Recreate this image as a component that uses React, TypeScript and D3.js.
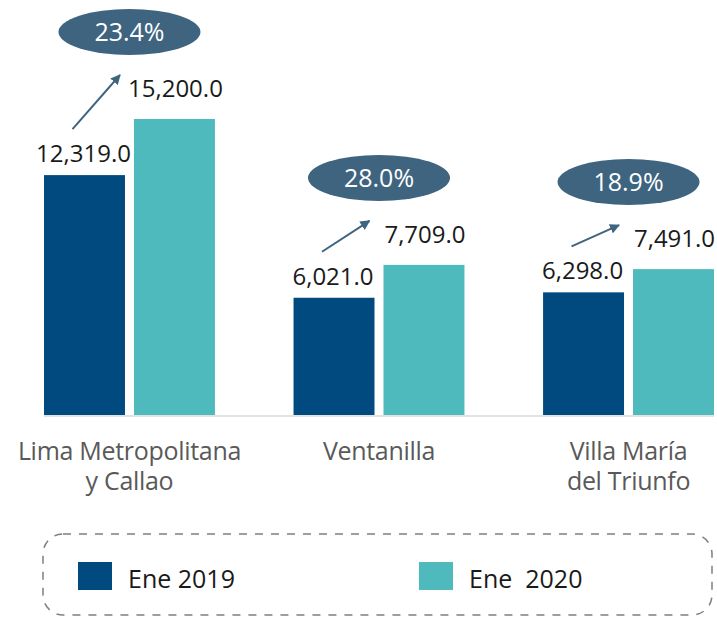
import React, { useEffect, useRef } from 'react'
import * as d3 from 'd3'

const categories = ['Lima Metropolitana y Callao', 'Ventanilla', 'Villa María del Triunfo']
const categoryLines = [['Lima Metropolitana', 'y Callao'], ['Ventanilla'], ['Villa María', 'del Triunfo']]
const seriesNames = ['Ene 2019', 'Ene  2020']
const values2019 = [12319.0, 6021.0, 6298.0]
const values2020 = [15200.0, 7709.0, 7491.0]
const growth = ['23.4%', '28.0%', '18.9%']

const WIDTH = 717
const HEIGHT = 617
const DARK = '#004a7f'
const TEAL = '#4fbabd'
const BADGE = '#3e6480'
const FONT = '"Open Sans", sans-serif'

const App = () => {
  const ref = useRef<SVGSVGElement>(null)

  useEffect(() => {
    const svg = d3.select(ref.current)
    svg.selectAll('*').remove()

    const rows = categories.map((c, i) => ({ cat: c, v: [values2019[i], values2020[i]] }))
    const color = d3.scaleOrdinal<string>().domain(seriesNames).range([DARK, TEAL])

    const x0 = d3.scaleBand().domain(categories).range([44, 714]).paddingInner(0.315).paddingOuter(0)
    const x1 = d3.scaleBand().domain(seriesNames).range([0, x0.bandwidth()]).paddingInner(0.1).paddingOuter(0)
    const y = d3.scaleLinear()
      .domain([0, d3.max(values2020) as number])
      .range([415, 119])

    // arrow marker
    svg.append('defs').append('marker')
      .attr('id', 'arr')
      .attr('viewBox', '0 0 10 10')
      .attr('refX', 9).attr('refY', 5)
      .attr('markerWidth', 5).attr('markerHeight', 5)
      .attr('orient', 'auto')
      .append('path')
      .attr('d', 'M0,0 L10,5 L0,10 z')
      .attr('fill', BADGE)

    // bars
    const groups = svg.append('g')
      .selectAll('g')
      .data(rows)
      .join('g')
      .attr('transform', d => `translate(${x0(d.cat)},0)`)

    groups.selectAll('rect')
      .data(d => seriesNames.map((s, j) => ({ key: s, value: d.v[j] })))
      .join('rect')
      .attr('x', d => x1(d.key) as number)
      .attr('y', d => y(d.value))
      .attr('width', x1.bandwidth())
      .attr('height', d => y(0) - y(d.value))
      .attr('fill', d => color(d.key))

    // axis baseline
    svg.append('line')
      .attr('x1', 44).attr('x2', 714)
      .attr('y1', 416).attr('y2', 416)
      .attr('stroke', '#d9d9d9').attr('stroke-width', 1.5)

    const fmt = d3.format(',.1f')

    // value labels
    groups.selectAll('text.val')
      .data(d => seriesNames.map((s, j) => ({ key: s, value: d.v[j], j })))
      .join('text')
      .attr('class', 'val')
      .attr('x', d => (x1(d.key) as number) + x1.bandwidth() / 2 + (d.j === 1 ? 1 : -1))
      .attr('y', d => y(d.value) - (d.j === 1 ? 22 : 13))
      .attr('text-anchor', 'middle')
      .attr('font-family', FONT)
      .attr('font-size', 24)
      .attr('fill', '#1a1a1a')
      .text(d => fmt(d.value))

    // growth arrows
    groups.append('line')
      .attr('x1', () => (x1(seriesNames[0]) as number) + x1.bandwidth() / 2 - 12)
      .attr('y1', d => y(d.v[0]) - 46)
      .attr('x2', () => (x1(seriesNames[1]) as number) - 14)
      .attr('y2', d => y(d.v[1]) - 44)
      .attr('stroke', BADGE)
      .attr('stroke-width', 2)
      .attr('marker-end', 'url(#arr)')

    // growth badges
    groups.append('ellipse')
      .attr('cx', x0.bandwidth() / 2)
      .attr('cy', d => y(d.v[1]) - 87)
      .attr('rx', 71).attr('ry', 23)
      .attr('fill', BADGE)

    groups.append('text')
      .attr('x', x0.bandwidth() / 2)
      .attr('y', d => y(d.v[1]) - 87 + 9)
      .attr('text-anchor', 'middle')
      .attr('font-family', FONT)
      .attr('font-size', 25)
      .attr('fill', '#ffffff')
      .text((d, i) => growth[i])

    // category labels, one text per line
    const catLines = categories.flatMap((c, i) =>
      categoryLines[i].map((t, k) => ({ cat: c, text: t, k })))

    svg.append('g')
      .selectAll('text')
      .data(catLines)
      .join('text')
      .attr('x', d => (x0(d.cat) as number) + x0.bandwidth() / 2)
      .attr('y', d => 460 + d.k * 30)
      .attr('text-anchor', 'middle')
      .attr('font-family', FONT)
      .attr('font-size', 25)
      .attr('letter-spacing', -0.3)
      .attr('fill', '#595959')
      .text(d => d.text)

    // legend
    svg.append('rect')
      .attr('x', 43).attr('y', 534)
      .attr('width', 669).attr('height', 81)
      .attr('rx', 20)
      .attr('fill', 'none')
      .attr('stroke', '#7f7f7f')
      .attr('stroke-width', 1.5)
      .attr('stroke-dasharray', '8 8')

    const legend = svg.append('g')
      .selectAll('g')
      .data(seriesNames)
      .join('g')
      .attr('transform', (d, i) => `translate(${78 + i * 341},562)`)

    legend.append('rect')
      .attr('width', 34).attr('height', 28)
      .attr('fill', d => color(d))

    legend.append('text')
      .attr('x', 50).attr('y', 26)
      .attr('font-family', FONT)
      .attr('font-size', 25)
      .attr('fill', '#1a1a1a')
      .style('white-space', 'pre')
      .text(d => d)
  }, [])

  return (
    <svg
      ref={ref}
      width={WIDTH}
      height={HEIGHT}
      style={{ position: 'absolute', left: 0, top: 0, background: '#fff' }}
    />
  )
}

export default App
